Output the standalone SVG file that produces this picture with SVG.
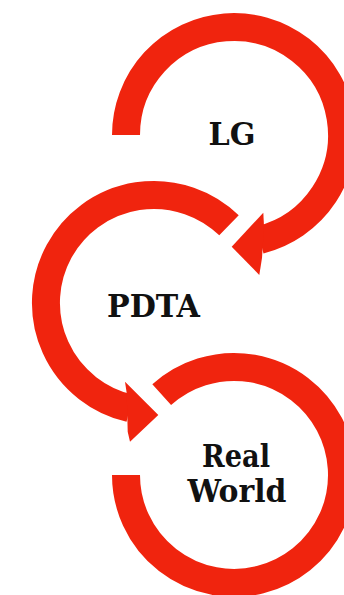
<svg xmlns="http://www.w3.org/2000/svg" width="344" height="595" viewBox="0 0 344 595">
  <style>
    .ring { fill: none; stroke: #f0240e; stroke-width: 28; stroke-linecap: butt; }
    .head { fill: #f0240e; }
    .label { font-family: "DejaVu Serif", "Liberation Serif", serif; font-size: 31px; font-weight: bold; fill: #111; text-anchor: middle; }
  </style>
  <rect width="344" height="595" fill="#ffffff"/>
  <g id="connectors">
    <path id="arc-lg" class="ring" d="M126,135 A108,108 0 1 1 260.1,239.8"/>
    <polygon class="head" points="231.7,246.7 263.3,212.7 264,226 262,258 259.3,275"/>
    <path id="arc-pdta" class="ring" d="M229,225.3 A108,108 0 1 0 129.7,408.2"/>
    <polygon class="head" points="158.3,415 125,381.7 126.7,393 127.7,431.7 130,441.7"/>
    <path id="arc-realworld" class="ring" d="M126,475 A108,108 0 1 0 161.7,394.7"/>
  </g>
  <g id="node-lg">
    <text class="label" x="232" y="144.5" textLength="47" lengthAdjust="spacingAndGlyphs">LG</text>
  </g>
  <g id="node-pdta">
    <text class="label" x="153.5" y="317" textLength="93" lengthAdjust="spacingAndGlyphs">PDTA</text>
  </g>
  <g id="node-realworld">
    <text class="label" x="236" y="466.5" textLength="68" lengthAdjust="spacingAndGlyphs">Real</text>
    <text class="label" x="237" y="501.5" textLength="99" lengthAdjust="spacingAndGlyphs">World</text>
  </g>
</svg>
